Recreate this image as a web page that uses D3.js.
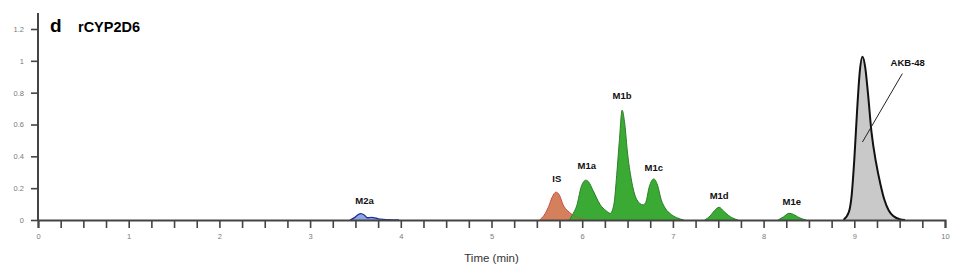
<!DOCTYPE html>
<html>
<head>
<meta charset="utf-8">
<script src="https://cdn.jsdelivr.net/npm/d3@7"></script>
<style>
  body { margin: 0; background: #fff; }
  svg { display: block; font-family: "Liberation Sans", Arial, sans-serif; }
  .tick-label { fill: #7a7a7a; font-size: 7.5px; }
  .peak-label { font-size: 9.5px; font-weight: bold; fill: #111; }
</style>
</head>
<body>
<svg id="chart" width="957" height="278"></svg>
<script>
// traces: [time (min), relative intensity]
const m2aTrace = [
  [3.44, 0], [3.49, 0.015], [3.53, 0.034], [3.56, 0.04], [3.6, 0.03], [3.63, 0.014],
  [3.68, 0.017], [3.73, 0.011], [3.78, 0.005], [3.86, 0.002], [3.98, 0]
];
const isTrace = [
  [5.53, 0], [5.58, 0.03], [5.63, 0.085], [5.67, 0.145], [5.71, 0.175], [5.75, 0.155],
  [5.79, 0.095], [5.84, 0.058], [5.88, 0.038], [5.94, 0.017], [6.0, 0.005], [6.05, 0]
];
const m1Trace = [
  [5.86, 0], [5.9, 0.04], [5.94, 0.09], [5.99, 0.21], [6.04, 0.25], [6.07, 0.24],
  [6.12, 0.185], [6.2, 0.095], [6.26, 0.06], [6.31, 0.042], [6.35, 0.1], [6.38, 0.28],
  [6.41, 0.5], [6.44, 0.69], [6.47, 0.6], [6.5, 0.42], [6.54, 0.26], [6.6, 0.13],
  [6.67, 0.095], [6.7, 0.11], [6.74, 0.21], [6.79, 0.258], [6.83, 0.22], [6.87, 0.13],
  [6.92, 0.07], [6.97, 0.04], [7.04, 0.015], [7.12, 0]
];
const m1dTrace = [
  [7.35, 0], [7.41, 0.025], [7.46, 0.06], [7.51, 0.08], [7.56, 0.055], [7.61, 0.03],
  [7.66, 0.012], [7.72, 0]
];
const m1eTrace = [
  [8.16, 0], [8.22, 0.02], [8.28, 0.042], [8.33, 0.035], [8.39, 0.015], [8.47, 0]
];
const akbTrace = [
  [8.88, 0], [8.94, 0.05], [8.97, 0.15], [9.0, 0.38], [9.03, 0.68], [9.06, 0.93],
  [9.09, 1.025], [9.12, 0.96], [9.15, 0.8], [9.19, 0.55], [9.24, 0.36], [9.29, 0.22],
  [9.33, 0.13], [9.38, 0.06], [9.43, 0.025], [9.5, 0.005], [9.56, 0]
];

const peakNames = ["M2a", "IS", "M1a", "M1b", "M1c", "M1d", "M1e"];
const peakLabelAt = [[3.6, 0.1], [5.72, 0.24], [6.05, 0.32], [6.44, 0.76], [6.79, 0.31], [7.51, 0.13], [8.31, 0.095]];

const xTicks = [0, 1, 2, 3, 4, 5, 6, 7, 8, 9, 10];
const yTicks = [0, 0.2, 0.4, 0.6, 0.8, 1, 1.2];

const svg = d3.select("#chart");
const margin = { left: 38, right: 12, top: 13, bottom: 58 };
const width = +svg.attr("width"), height = +svg.attr("height");

const x = d3.scaleLinear().domain([0, 10]).range([margin.left, width - margin.right]);
const y = d3.scaleLinear().domain([0, 1.2]).range([220, 29]);

const area = d3.area()
  .x((d) => x(d[0]))
  .y0(y(0))
  .y1((d) => y(d[1]))
  .curve(d3.curveMonotoneX);
const line = d3.line()
  .x((d) => x(d[0]))
  .y((d) => y(d[1]))
  .curve(d3.curveMonotoneX);

function drawPeak(data, fill, stroke, sw) {
  svg.append("path").datum(data).attr("d", area).attr("fill", fill);
  svg.append("path").datum(data).attr("d", line)
    .attr("fill", "none").attr("stroke", stroke).attr("stroke-width", sw);
}

drawPeak(m2aTrace, "#8ea6e0", "#23329a", 1.3);
drawPeak(isTrace, "#d4805c", "#c4504a", 1);
drawPeak(m1Trace, "#3aaa35", "#2b7f28", 1);
// IS tail shows through the green
svg.append("path").datum(isTrace.filter((d) => d[0] > 5.84)).attr("d", line)
  .attr("fill", "none").attr("stroke", "#b35a44").attr("stroke-width", 0.8);
drawPeak(m1dTrace, "#3aaa35", "#2b7f28", 1);
drawPeak(m1eTrace, "#3aaa35", "#2b7f28", 1);
drawPeak(akbTrace, "#c9c9c9", "#111", 2);

// x axis
const xAxis = d3.axisBottom(x)
  .tickValues(d3.range(0, 10.01, 0.25))
  .tickSize(8)
  .tickFormat((d) => (xTicks.includes(d) ? d : ""));
const gx = svg.append("g").attr("transform", `translate(0,${y(0)})`).call(xAxis);
gx.select(".domain").attr("stroke", "#444").attr("stroke-width", 2);
gx.selectAll(".tick line").attr("stroke", "#444").attr("stroke-width", 1.6);
gx.selectAll(".tick text").attr("class", "tick-label").attr("y", 14)
  .attr("fill", "#7a7a7a").attr("font-family", null).attr("font-size", null);

// y axis
const yAxis = d3.axisLeft(y).tickValues(yTicks).tickSize(7).tickFormat(d3.format("~g"));
const gy = svg.append("g").attr("transform", `translate(${margin.left},0)`).call(yAxis);
gy.select(".domain").remove();
gy.append("line").attr("x1", 0).attr("x2", 0).attr("y1", margin.top).attr("y2", y(0))
  .attr("stroke", "#444").attr("stroke-width", 2);
gy.selectAll(".tick line").attr("stroke", "#444").attr("stroke-width", 1.6);
gy.selectAll(".tick text").attr("class", "tick-label").attr("x", -14)
  .attr("fill", "#7a7a7a").attr("font-family", null).attr("font-size", null);

svg.append("text").attr("x", x(5)).attr("y", 262).attr("text-anchor", "middle")
  .attr("font-size", 11.5).attr("fill", "#333").text("Time (min)");

// title
svg.append("text").attr("x", 50).attr("y", 32).attr("font-size", 19).attr("font-weight", "bold").text("d");
svg.append("text").attr("x", 78).attr("y", 32).attr("font-size", 14.5).attr("font-weight", "bold").text("rCYP2D6");

// peak labels
svg.append("g").selectAll("text").data(peakNames).join("text")
  .attr("class", "peak-label")
  .attr("x", (d, i) => x(peakLabelAt[i][0]))
  .attr("y", (d, i) => y(peakLabelAt[i][1]))
  .attr("text-anchor", "middle")
  .text((d) => d);

svg.append("text").attr("class", "peak-label").attr("x", x(9.4)).attr("y", y(0.97)).text("AKB-48");
svg.append("line")
  .attr("x1", x(9.53)).attr("y1", y(0.92))
  .attr("x2", x(9.09)).attr("y2", y(0.49))
  .attr("stroke", "#222").attr("stroke-width", 1);
</script>
</body>
</html>
